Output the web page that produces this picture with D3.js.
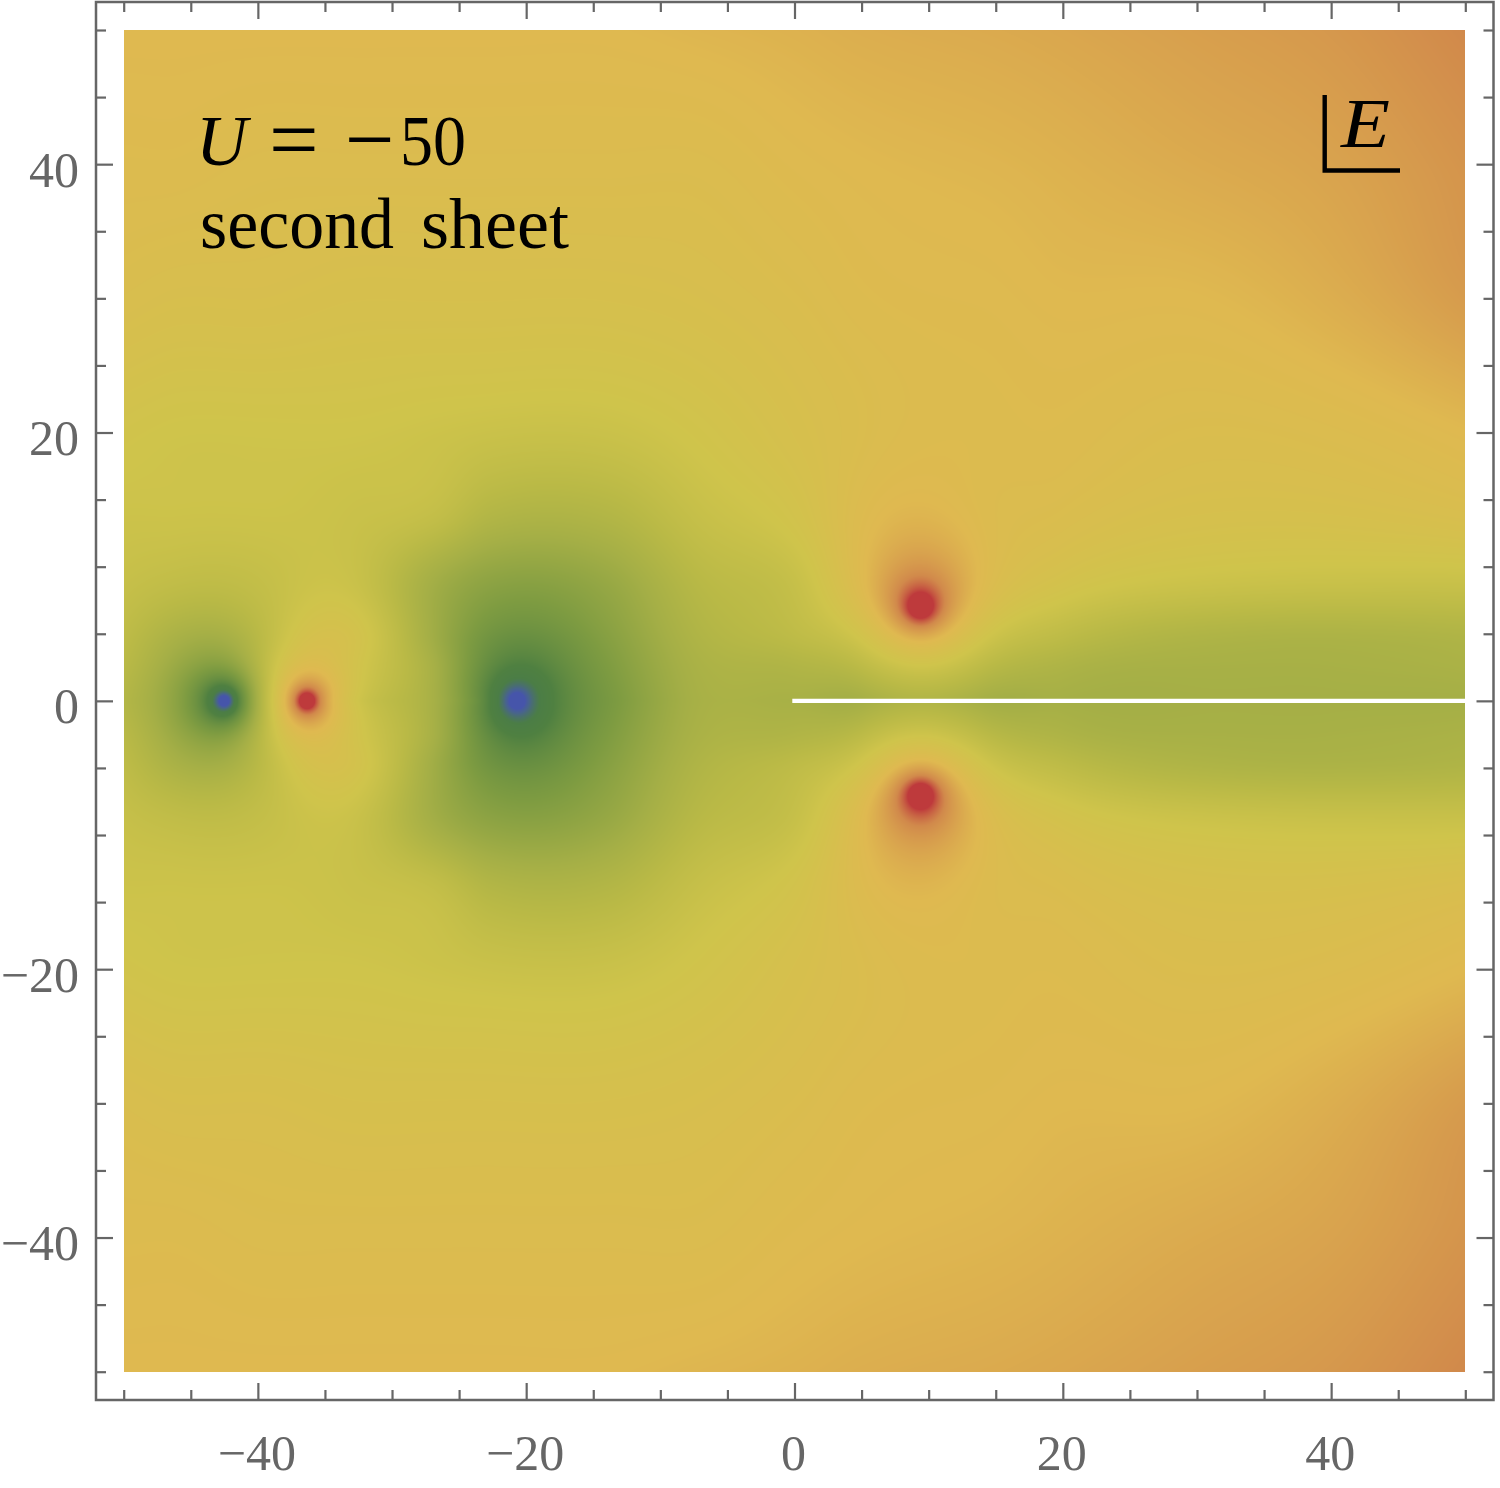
<!DOCTYPE html>
<html>
<head>
<meta charset="utf-8">
<script src="https://cdn.jsdelivr.net/npm/d3@7"></script>
<style>
html,body{margin:0;padding:0;background:#fff}
#wrap{position:relative;width:1500px;height:1488px;overflow:hidden}
canvas{position:absolute;left:124px;top:30px}
svg{position:absolute;left:0;top:0}
text{font-family:"Liberation Serif",serif}
</style>
</head>
<body>
<div id="wrap"></div>
<script>
// Visible field level, at these nodes (upper half; the lower half mirrors it)
const gridX = [-50,-46,-39.7,-33,-27,-22.5,-14,-7,0,5,14,20,30,40,50];
const gridY = [50,40,30,20,14,9,5,2.5,0];
const row50  = [72,72,72,72,72,72,72,73,74,75,76,77,79,81,85];
const row40  = [70,70,69,69,69,69,69,69,71,72,73,74,76,78,82];
const row30  = [67,66,66,65,65,65,65,66,68,70,71,72,72,75,80];
const row20  = [61,60,60,60,59,58,58,61,65,68,70,70,68,69,72];
const row14  = [59,59,59,58,56,50,50,57,62,70,70,68,65,65,67];
const row9   = [57,55,56,58,45,38,41,52,57,71,71,63,59,58,58];
const row5   = [54,47,53,63,44,29,36,49,54,62,62,54,49,48,49];
const row2_5 = [52,41,52,63,46,22,33,47,49,53,53,48,46,46,47];
const row0   = [50,37,50,62,46,15,31,46,46,45,45,45,45,45,45];
const gridRows = [row50,row40,row30,row20,row14,row9,row5,row2_5,row0];

// Blue zeros and red poles of the plot
const spotX      = [-42.5,-36.35,-20.7,9.4,9.4];
const spotY      = [0,0,0,7,-7];
const spotSign   = [-1,1,-1,1,1];
const spotWeight = [25,20,20,18,18];
const spotReach  = [30,30,30,30,30];

// Colour ramp
const rampLevels = [-10,-2,9,17,33,45,52,60,72,85,96];
const rampColors = ["#4655aa","#48648c","#4b7d46","#4f8041","#7d9b41","#a5af46","#b9b946","#cfc44b","#dfb950","#d1894b","#be3a3c"];

// Axes
const majorTicks = [-40,-20,0,20,40];
const minorTicks = [-50,-45,-35,-30,-25,-15,-10,-5,5,10,15,25,30,35,45,50];

const x = d3.scaleLinear().domain([-50,50]).range([123.7,1465.3]);
const y = d3.scaleLinear().domain([50,-50]).range([30,1371.7]);
const colour = d3.scaleLinear().domain(rampLevels).range(rampColors).clamp(true);

// lookup table from the colour scale
const lutLo=-10, lutHi=96, lutN=2048, lut=new Uint8ClampedArray(lutN*3);
for(let i=0;i<lutN;i++){const c=d3.rgb(colour(lutLo+(lutHi-lutLo)*i/(lutN-1)));lut[3*i]=c.r;lut[3*i+1]=c.g;lut[3*i+2]=c.b;}

function spotField(px,py){
  let s=0;
  for(let k=0;k<spotX.length;k++){
    const dx=px-spotX[k],dy=py-spotY[k],r2=dx*dx+dy*dy+1e-6,R=spotReach[k];
    s+=spotSign[k]*spotWeight[k]*0.5*Math.log(1+R*R/r2);
  }
  return s;
}
// what remains at each node once the spots are taken out
const gridAsc=gridY.slice().reverse();
const residual=gridRows.slice().reverse().map((row,j)=>row.map((v,i)=>v-spotField(gridX[i],gridAsc[j])));

function tangents(xs,ys){
  const n=xs.length,m=new Array(n);
  for(let i=0;i<n;i++){
    if(i===0)m[i]=(ys[1]-ys[0])/(xs[1]-xs[0]);
    else if(i===n-1)m[i]=(ys[n-1]-ys[n-2])/(xs[n-1]-xs[n-2]);
    else m[i]=(ys[i+1]-ys[i-1])/(xs[i+1]-xs[i-1]);
  }
  return m;
}
function hermite(xs,ys,m,t){
  let i=0;while(i<xs.length-2&&t>xs[i+1])i++;
  const h=xs[i+1]-xs[i],u=(t-xs[i])/h,u2=u*u,u3=u2*u;
  return (2*u3-3*u2+1)*ys[i]+(u3-2*u2+u)*h*m[i]+(-2*u3+3*u2)*ys[i+1]+(u3-u2)*h*m[i+1];
}
const colM=gridX.map((_,i)=>tangents(gridAsc,residual.map(r=>r[i])));

const W=1341,H=1342;
const wrap=d3.select("#wrap");
const cv=wrap.append("canvas").attr("width",W).attr("height",H).node();
const ctx=cv.getContext("2d");
const img=ctx.createImageData(W,H);
for(let j=0;j<H;j++){
  const dy=y.invert(30+j+0.5),ay=Math.abs(dy);
  const cols=gridX.map((_,i)=>hermite(gridAsc,residual.map(r=>r[i]),colM[i],ay));
  const cm=tangents(gridX,cols);
  for(let i=0;i<W;i++){
    const dx=x.invert(124+i+0.5);
    const v=hermite(gridX,cols,cm,dx)+spotField(dx,dy);
    let q=Math.round((v-lutLo)/(lutHi-lutLo)*(lutN-1));q=q<0?0:q>=lutN?lutN-1:q;
    const o=4*(j*W+i);
    img.data[o]=lut[3*q];img.data[o+1]=lut[3*q+1];img.data[o+2]=lut[3*q+2];img.data[o+3]=255;
  }
}
ctx.putImageData(img,0,0);

const svg=wrap.append("svg").attr("width",1500).attr("height",1488);
const grey="#666666";
const fmt=d=>String(d).replace("-","\u2212");
const frame={l:96,r:1493.5,t:2,b:1400};

svg.append("clipPath").attr("id","plotclip").append("rect")
  .attr("x",x(-50)).attr("y",y(50)).attr("width",x(50)-x(-50)).attr("height",y(-50)-y(50));
svg.append("line").attr("clip-path","url(#plotclip)")
  .attr("x1",x(0)).attr("x2",x(50)).attr("y1",y(0)).attr("y2",y(0))
  .attr("stroke","#fff").attr("stroke-width",4.4).attr("stroke-linecap","square");

function draw(make,tf,vals,len,label){
  const a=make().tickValues(vals).tickSizeInner(-len).tickSizeOuter(0).tickFormat(label?fmt:"");
  return svg.append("g").attr("transform",tf).call(a).call(g=>g.select(".domain").remove())
    .call(g=>g.selectAll("line").attr("stroke",grey).attr("stroke-width",2.2));
}
const bt=`translate(0,${frame.b})`,tt=`translate(0,${frame.t})`,lt=`translate(${frame.l},0)`,rt=`translate(${frame.r},0)`;
[[()=>d3.axisBottom(x),bt],[()=>d3.axisTop(x),tt],[()=>d3.axisLeft(y),lt],[()=>d3.axisRight(y),rt]].forEach(([make,tf],idx)=>{
  draw(make,tf,minorTicks,10,false);
  const m=draw(make,tf,majorTicks,17,idx===0||idx===2);
  if(idx===0)m.selectAll("text").attr("x",-1.5).attr("y",70).attr("dy",0).attr("font-size",50).attr("fill",grey).attr("font-family","Liberation Serif");
  if(idx===2)m.selectAll("text").attr("x",-17).attr("dy",22).attr("font-size",50).attr("fill",grey).attr("font-family","Liberation Serif");
});
svg.append("rect").attr("x",frame.l).attr("y",frame.t).attr("width",frame.r-frame.l).attr("height",frame.b-frame.t)
  .attr("fill","none").attr("stroke",grey).attr("stroke-width",2.5);

// annotations
svg.append("text").attr("x",196).attr("y",165).attr("font-size",71).attr("font-style","italic").text("U");
svg.append("text").attr("x",269).attr("y",169).attr("font-size",88).text("=");
svg.append("text").attr("x",345).attr("y",169).attr("font-size",88).text("\u2212");
svg.append("text").attr("x",400).attr("y",165).attr("font-size",71).attr("textLength",66).attr("lengthAdjust","spacingAndGlyphs").text("50");
svg.append("text").attr("x",200).attr("y",248).attr("font-size",71).attr("textLength",194).attr("lengthAdjust","spacingAndGlyphs").text("second");
svg.append("text").attr("x",421).attr("y",248).attr("font-size",71).attr("textLength",148).attr("lengthAdjust","spacingAndGlyphs").text("sheet");
svg.append("text").attr("x",1341).attr("y",147).attr("font-size",70).attr("font-style","italic").attr("textLength",49).attr("lengthAdjust","spacingAndGlyphs").text("E");
svg.append("path").attr("d",d3.line()([[1324.7,95],[1324.7,170.5],[1400,170.5]]))
  .attr("fill","none").attr("stroke","#000").attr("stroke-width",4.4);
</script>
</body>
</html>
